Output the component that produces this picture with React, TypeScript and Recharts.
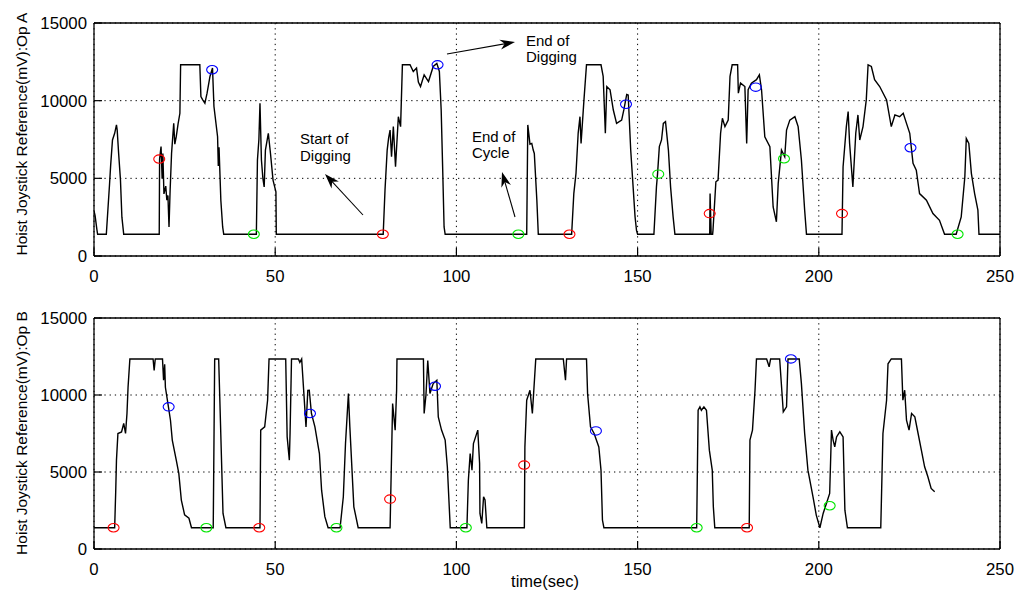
import React from 'react';
import { ComposedChart, Line, Scatter, XAxis, YAxis, CartesianGrid, ReferenceLine } from 'recharts';

const xTicks = [0, 50, 100, 150, 200, 250];
const yTicks = [0, 5000, 10000, 15000];

const opA: [number, number][] = [
  [0, 2900], [0.3, 2600], [0.8, 1700], [1, 1400],
  [3.4, 1400], [4.3, 4670], [4.6, 5850], [5.1, 7470], [5.7, 7900], [6.2, 8440], [6.4, 8100], [6.8, 6600], [7.3, 4900], [7.7, 2500], [8.2, 1400],
  [18.0, 1400], [18.1, 6240], [18.5, 7040], [18.8, 5000], [19.0, 6600], [19.3, 4000], [19.8, 4500], [20.1, 3600], [20.4, 3900], [20.7, 1870], [21.0, 4200], [21.4, 6600], [22.0, 8540], [22.3, 7200], [22.7, 7680], [23.2, 8500], [23.7, 9190], [23.9, 12310], [29.2, 12310], [29.5, 10260], [30.0, 10050], [30.6, 9830], [31.2, 10480], [32.0, 11560], [32.7, 12100], [33.1, 9620], [34.1, 7680], [34.3, 5800], [34.5, 7000], [35.0, 3590], [35.5, 1870], [35.8, 1400],
  [44.8, 1400], [45.1, 6180], [45.5, 7500], [45.8, 9830], [46.2, 6180], [46.6, 5000], [46.96, 4450], [47.3, 6820], [48.1, 7900], [48.7, 6600], [49.4, 4890], [50.2, 4130], [50.3, 1400],
  [79.8, 1400], [80.3, 4240], [80.9, 6820], [81.3, 7600], [81.7, 8110], [82.1, 6390], [82.6, 8330], [83.2, 5750], [83.98, 8970], [84.6, 8330], [85.1, 12310], [87.2, 12310], [88.1, 11880], [89.0, 12100], [89.5, 11200], [90.1, 10910], [91.1, 11660], [92.3, 11230], [93.6, 12200], [94.6, 12400], [95.3, 11880], [95.8, 9400], [96.2, 5750], [96.6, 1870], [96.9, 1400],
  [119.4, 1400], [119.7, 8440], [120.3, 7200], [120.8, 7250], [121.2, 6820], [121.5, 6600], [122.2, 3590], [122.6, 1400],
  [131.8, 1400], [132.4, 4020], [133.0, 5320], [133.6, 7900], [134.1, 8970], [134.4, 7250], [135.2, 10050], [135.9, 12310], [139.9, 12310], [140.5, 11560], [141.1, 7900], [141.5, 10910], [142.4, 10700], [143.3, 9400], [144.2, 8540], [145.6, 8750], [146.2, 9400], [147.0, 10400], [147.4, 10370], [148.1, 6820], [149.3, 2520], [149.7, 1650], [150.0, 1400],
  [154.5, 1400], [155.2, 4450], [155.5, 5270], [156.0, 7040], [156.6, 7470], [157.1, 8540], [157.7, 8650], [158.5, 6820], [159.1, 4450], [159.8, 2520], [160.3, 1400],
  [169.9, 1400], [170.0, 4020], [170.3, 1400], [170.7, 1400], [170.8, 1650], [171.6, 4780], [172.2, 4890], [172.9, 7900], [173.4, 8870], [174.1, 8330], [175.0, 8750], [175.5, 11560], [176.1, 12310], [177.6, 12310], [177.8, 10480], [178.4, 11130], [179.6, 10910], [180.1, 7250], [180.5, 10700], [181.4, 11130], [182.8, 11350], [183.6, 11660], [184.2, 10700], [185.1, 7680], [186.5, 7040], [187.4, 3160], [188.3, 2200], [188.8, 4670], [189.7, 6820], [190.6, 6390], [191.1, 8110], [192.0, 8750], [193.4, 8970], [194.3, 8330], [195.2, 6180], [196.1, 2950], [196.6, 1400],
  [206.4, 1400], [206.7, 5750], [207.6, 8330], [208.1, 9300], [208.5, 7250], [209.4, 4450], [210.2, 7900], [210.8, 9080], [211.3, 7470], [212.2, 8330], [213.1, 10050], [213.6, 12310], [214.5, 12200], [215.4, 11350], [216.8, 10910], [218.7, 10050], [220.0, 8330], [221.0, 9080], [222.3, 8970], [223.3, 9190], [224.2, 8540], [225.1, 7900], [225.5, 7040], [226.0, 5960], [226.9, 5530], [227.8, 4020], [229.7, 3590], [231.5, 2730], [233.3, 2300], [234.7, 1400],
  [237.9, 1400], [239.3, 2520], [240.3, 5100], [240.7, 7570], [241.4, 7250], [242.1, 5320], [243.0, 4020], [243.9, 2950], [244.2, 1400], [250, 1400],
];

const opAStartDig: [number, number][] = [[18.0, 6240], [79.7, 1400], [131.2, 1400], [169.9, 2730], [206.4, 2730]];
const opAEndDig: [number, number][] = [[32.6, 11990], [94.8, 12310], [146.8, 9770], [182.6, 10870], [225.3, 6970]];
const opAEndCycle: [number, number][] = [[44.1, 1400], [117.1, 1400], [155.7, 5270], [190.4, 6260], [238.3, 1400]];

const opB: [number, number][] = [
  [0, 1380], [5.7, 1380], [5.99, 3720], [6.2, 5770], [6.6, 7500], [7.6, 7600], [8.2, 8150], [8.7, 7500], [9.1, 8800], [9.4, 10520], [9.9, 12340], [16.3, 12340], [16.6, 11600], [16.9, 12340], [18.9, 12340], [19.2, 10960], [19.5, 12000], [19.7, 10500], [20.4, 9440], [21.1, 8360], [21.6, 7070], [22.7, 5770], [23.4, 4910], [24.1, 3180], [25.0, 2220], [26.2, 2000], [26.9, 1380],
  [32.9, 1380], [33.3, 12340], [34.4, 12340], [34.7, 9880], [35.6, 2310], [36.4, 1380],
  [45.8, 1380], [46.0, 7720], [47.1, 7930], [47.9, 9660], [48.3, 12340], [52.9, 12340], [53.3, 7280], [53.9, 5770], [54.1, 7500], [54.5, 12340], [56.4, 12340], [56.8, 12120], [57.3, 12340], [58.5, 7930], [59.0, 10300], [59.4, 10310], [60.0, 8800], [60.96, 7930], [62.2, 6200], [62.8, 3820], [63.7, 2100], [64.6, 1380], [67.9, 1380], [68.8, 3390], [69.4, 6850], [70.2, 10090], [70.6, 7930], [71.7, 2740], [72.9, 1380],
  [81.7, 1380], [82.4, 9440], [83.1, 7720], [83.5, 10310], [83.6, 12340], [90.9, 12340], [91.1, 8800], [91.6, 10000], [92.1, 12240], [92.7, 10100], [93.6, 10740], [94.6, 10960], [95.0, 8580], [95.9, 7720], [96.9, 7070], [97.5, 5340], [98.3, 1380],
  [102.9, 1380], [103.3, 4470], [103.8, 6200], [104.3, 5120], [104.7, 6850], [105.9, 7720], [106.4, 5550], [106.5, 2310], [107.0, 1660], [107.5, 3390], [107.9, 3180], [108.4, 1380],
  [118.75, 1380], [118.9, 6630], [119.4, 9660], [120.3, 10310], [120.96, 8800], [121.9, 12340], [129.5, 12340], [130.1, 10960], [130.4, 12340], [135.9, 12340], [136.2, 10090], [137.0, 7930], [138.0, 7500], [139.3, 6630], [139.9, 5120], [140.3, 1880], [140.7, 1380],
  [166.3, 1380], [166.7, 9010], [167.2, 9230], [167.6, 9010], [168.3, 9230], [169.0, 9010], [169.8, 6420], [170.6, 5120], [170.9, 2740], [171.3, 1380],
  [180.8, 1380], [181.0, 7070], [181.7, 7720], [182.4, 10310], [182.8, 12340], [185.6, 12340], [186.3, 11830], [186.7, 12340], [189.2, 12340], [190.2, 8900], [191.1, 9230], [191.5, 12340], [194.6, 12340], [195.2, 10740], [196.1, 7500], [197.0, 5120], [198.4, 3390], [199.3, 2200], [200.3, 1380], [201.2, 2310], [202.1, 2960], [203.0, 3610], [203.5, 7720], [203.95, 7070], [204.4, 6630], [204.9, 7280], [205.8, 7610], [206.7, 7280], [207.2, 2520], [207.9, 1380],
  [217.1, 1380], [217.7, 7500], [218.7, 9660], [219.1, 12030], [220.0, 12340], [222.8, 12340], [223.2, 9660], [223.7, 10310], [224.2, 8360], [224.9, 7720], [225.6, 8800], [226.5, 8580], [227.4, 7500], [228.3, 6420], [229.2, 5340], [230.1, 4690], [231.0, 3930], [231.98, 3720],
];

const opBStartDig: [number, number][] = [[5.4, 1380], [45.6, 1380], [81.7, 3240], [118.7, 5450], [180.2, 1380]];
const opBEndDig: [number, number][] = [[20.6, 9230], [59.6, 8800], [94.1, 10570], [138.5, 7670], [192.3, 12340]];
const opBEndCycle: [number, number][] = [[31.0, 1380], [66.9, 1380], [102.6, 1380], [166.3, 1380], [203.0, 2810]];

const toRows = (pairs: [number, number][]) => pairs.map(([t, v]) => ({ t, v }));

const FONT = '"Liberation Sans", Arial, Helvetica, sans-serif';
const tickStyle = { fill: '#000', fontSize: 16.8, fontFamily: FONT };
const axisLineStyle = { stroke: '#000', strokeWidth: 1.3 };
const tickLineStyle = { stroke: '#000', strokeWidth: 1.2 };
const IN = -8;

const ring = (color: string) => (props: any) => (
  <ellipse cx={props.cx} cy={props.cy} rx={5.5} ry={4.2} fill="none" stroke={color} strokeWidth={1.1} />
);

type PanelProps = {
  series: [number, number][];
  start: [number, number][];
  endDig: [number, number][];
  endCycle: [number, number][];
  height: number;
  margin: { top: number; right: number; left: number; bottom: number };
};

function Panel({ series, start, endDig, endCycle, height, margin }: PanelProps) {
  return (
    <ComposedChart width={1024} height={height} margin={margin}>
      <CartesianGrid stroke="#000" strokeDasharray="1.3 3.9" strokeWidth={1} />
      <XAxis
        type="number"
        dataKey="t"
        domain={[0, 250]}
        ticks={xTicks}
        allowDataOverflow
        height={30}
        tickSize={IN}
        tickLine={tickLineStyle}
        axisLine={axisLineStyle}
        tick={tickStyle}
        tickMargin={22}
      />
      <XAxis
        xAxisId="top"
        orientation="top"
        type="number"
        domain={[0, 250]}
        ticks={xTicks}
        allowDataOverflow
        height={0}
        tickSize={IN}
        tickLine={tickLineStyle}
        axisLine={axisLineStyle}
        tick={false}
      />
      <YAxis
        type="number"
        dataKey="v"
        domain={[0, 15000]}
        ticks={yTicks}
        allowDataOverflow
        width={60}
        tickSize={IN}
        tickLine={tickLineStyle}
        axisLine={axisLineStyle}
        tick={tickStyle}
        tickMargin={15}
      />
      <YAxis
        yAxisId="right"
        orientation="right"
        type="number"
        domain={[0, 15000]}
        ticks={yTicks}
        allowDataOverflow
        width={0}
        tickSize={IN}
        tickLine={tickLineStyle}
        axisLine={axisLineStyle}
        tick={false}
      />
      <ReferenceLine y={15000} stroke="#000" strokeWidth={1.3} />
      <ReferenceLine x={250} stroke="#000" strokeWidth={1.3} />
      <Line
        data={toRows(series)}
        dataKey="v"
        type="linear"
        stroke="#000"
        strokeWidth={1.4}
        dot={false}
        activeDot={false}
        isAnimationActive={false}
      />
      <Scatter data={toRows(start)} dataKey="v" shape={ring('#ff0000')} isAnimationActive={false} />
      <Scatter data={toRows(endDig)} dataKey="v" shape={ring('#0000ff')} isAnimationActive={false} />
      <Scatter data={toRows(endCycle)} dataKey="v" shape={ring('#00e600')} isAnimationActive={false} />
    </ComposedChart>
  );
}

function Arrow({ x1, y1, x2, y2 }: { x1: number; y1: number; x2: number; y2: number }) {
  const dx = x2 - x1;
  const dy = y2 - y1;
  const len = Math.sqrt(dx * dx + dy * dy);
  const ux = dx / len;
  const uy = dy / len;
  const hl = 15;
  const hw = 5;
  const bx = x2 - ux * hl;
  const by = y2 - uy * hl;
  const pts = `${x2},${y2} ${bx - uy * hw},${by + ux * hw} ${x2 - ux * hl * 0.7},${y2 - uy * hl * 0.7} ${bx + uy * hw},${by - ux * hw}`;
  return (
    <g>
      <line x1={x1} y1={y1} x2={x2 - ux * 4} y2={y2 - uy * 4} stroke="#000" strokeWidth={1.1} />
      <polygon points={pts} fill="#000" />
    </g>
  );
}

export default function App() {
  const annot = { fontSize: 15, fontFamily: FONT, fill: '#000' };
  return (
    <div style={{ position: 'absolute', left: 0, top: 0, width: 1024, height: 604, background: '#fff', overflow: 'hidden' }}>
      <div style={{ position: 'absolute', left: 0, top: 0 }}>
        <Panel
          series={opA}
          start={opAStartDig}
          endDig={opAEndDig}
          endCycle={opAEndCycle}
          height={290}
          margin={{ top: 23, right: 24, left: 34, bottom: 4 }}
        />
      </div>
      <div style={{ position: 'absolute', left: 0, top: 290 }}>
        <Panel
          series={opB}
          start={opBStartDig}
          endDig={opBEndDig}
          endCycle={opBEndCycle}
          height={314}
          margin={{ top: 28, right: 24, left: 34, bottom: 25 }}
        />
      </div>
      <svg width={1024} height={604} style={{ position: 'absolute', left: 0, top: 0, pointerEvents: 'none' }}>
        <text transform="translate(27,134) rotate(-90)" textAnchor="middle" fontSize={15.5} fontFamily={FONT} fill="#000">
          Hoist Joystick Reference(mV):Op A
        </text>
        <text transform="translate(27,433) rotate(-90)" textAnchor="middle" fontSize={15.5} fontFamily={FONT} fill="#000">
          Hoist Joystick Reference(mV):Op B
        </text>
        <text x={545} y={587} textAnchor="middle" fontSize={16.5} fontFamily={FONT} fill="#000">time(sec)</text>
        <text x={300} y={144} {...annot}>Start of</text>
        <text x={300} y={161} {...annot}>Digging</text>
        <text x={526} y={45.5} {...annot}>End of</text>
        <text x={526} y={62} {...annot}>Digging</text>
        <text x={472} y={141.5} {...annot}>End of</text>
        <text x={472} y={158} {...annot}>Cycle</text>
        <Arrow x1={363} y1={215} x2={325} y2={174} />
        <Arrow x1={447} y1={54} x2={515} y2={42} />
        <Arrow x1={515} y1={217} x2={502} y2={172} />
      </svg>
    </div>
  );
}
